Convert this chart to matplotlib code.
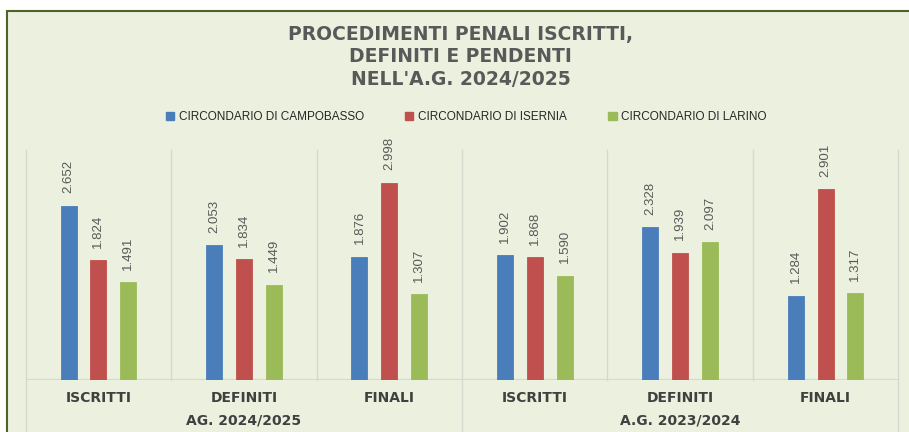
import matplotlib
matplotlib.use("Agg")
import matplotlib.pyplot as plt
from matplotlib.patches import Rectangle, Patch

plt.rcParams['font.family'] = ['Liberation Sans', 'DejaVu Sans']

title = "PROCEDIMENTI PENALI ISCRITTI,\nDEFINITI E PENDENTI\nNELL'A.G. 2024/2025"
categories = ["ISCRITTI", "DEFINITI", "FINALI", "ISCRITTI", "DEFINITI", "FINALI"]
groups = ["AG. 2024/2025", "A.G. 2023/2024"]
series_names = ["CIRCONDARIO DI CAMPOBASSO", "CIRCONDARIO DI ISERNIA", "CIRCONDARIO DI LARINO"]
campobasso = [2652, 2053, 1876, 1902, 2328, 1284]
isernia = [1824, 1834, 2998, 1868, 1939, 2901]
larino = [1491, 1449, 1307, 1590, 2097, 1317]
colors = ["#4a7ebb", "#c0504d", "#9bbb59"]

W, H = 909, 432
fig = plt.figure(figsize=(W / 100, H / 100), dpi=100)
fig.patch.set_facecolor("white")

# chart background panel with border
bg = Rectangle((7 / W, -0.05), 1.1, 1 - 11 / H + 0.05, transform=fig.transFigure,
               facecolor="#ebf1de", edgecolor="#4f6228", linewidth=1.5, zorder=-5)
fig.patches.append(bg)

fig.text(0.507, 1 - 57 / H, title, ha="center", va="center", fontsize=13.5,
         fontweight="bold", color="#595959", linespacing=1.22, family=["DejaVu Sans"])

ax = fig.add_axes([25.7 / W, (H - 380) / H, (898.3 - 25.7) / W, 230 / H])
ax.patch.set_visible(False)
for s in ax.spines.values():
    s.set_visible(False)
ax.set_xlim(0, len(categories))
ax.set_ylim(0, 3500)
ax.set_yticks([])

series = [campobasso, isernia, larino]
offsets = [-0.205, 0, 0.205]
bw = 0.11
for vals, off, c in zip(series, offsets, colors):
    xs = [i + 0.5 + off for i in range(len(categories))]
    ax.bar(xs, vals, width=bw, color=c, edgecolor=c, linewidth=0.6, zorder=3)
    for x, v in zip(xs, vals):
        ax.annotate(f"{v / 1000:.3f}", (x, v), xytext=(0, 9), textcoords="offset points",
                    rotation=90, ha="center", va="bottom", fontsize=9.5, color="#595959")

# baseline
ax.axhline(0, color="#d5d9d0", lw=1.6, zorder=2)
# separators
xt = ax.get_xaxis_transform()
n = len(categories)
for i in range(n + 1):
    low = -0.5 if i % 3 == 0 else 0
    ax.plot([i, i], [1, low], color="#d5d9d0", lw=1, transform=xt, clip_on=False, zorder=1)

ax.set_xticks([i + 0.5 for i in range(n)])
ax.set_xticklabels(categories, fontsize=10, fontweight="bold", color="#404040",
                   family=["DejaVu Sans"])
ax.tick_params(axis="x", length=0, pad=8)

for g, name in enumerate(groups):
    ax.text(g * 3 + 1.5, -0.178, name, transform=xt, ha="center", va="center",
            fontsize=10, fontweight="bold", color="#404040", family=["DejaVu Sans"])

handles = [Patch(facecolor=c, edgecolor=c) for c in colors]
fig.legend(handles, series_names, loc="center", bbox_to_anchor=(0.513, 1 - 117 / H), ncol=3,
           frameon=False, fontsize=8.5, handlelength=0.7, handleheight=0.7, handletextpad=0.4,
           columnspacing=3.5, labelcolor="#262626")

fig.savefig("out.png", dpi=100, facecolor=fig.get_facecolor())
